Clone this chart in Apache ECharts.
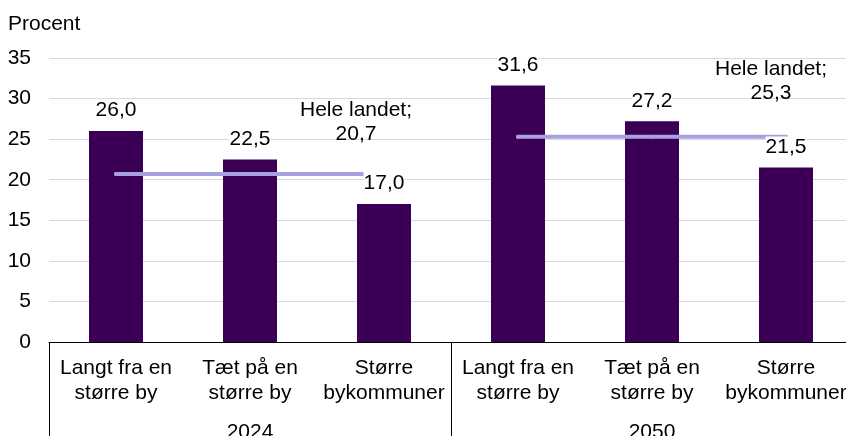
<!DOCTYPE html>
<html>
<head>
<meta charset="utf-8">
<script src="https://cdn.jsdelivr.net/npm/echarts@6/dist/echarts.min.js"></script>
<style>
  html, body { margin: 0; padding: 0; background: #fff; }
  #chart { width: 846px; height: 436px; }
</style>
</head>
<body>
<div id="chart"></div>
<script>
// kategorier og værdier
const categories = [
  'Langt fra en\nstørre by', 'Tæt på en\nstørre by', 'Større\nbykommuner',
  'Langt fra en\nstørre by', 'Tæt på en\nstørre by', 'Større\nbykommuner'
];
const groups = ['2024', '2050'];
const values = [26.0, 22.5, 17.0, 31.6, 27.2, 21.5];
const avg2024 = [20.7, 20.7, 20.7, '-', '-', '-'];
const avg2050 = ['-', '-', '-', 25.3, 25.3, 25.3];
const avgName = 'Hele landet';

const font = 'Liberation Sans, Arial, sans-serif';
const fmt = v => Number(v).toFixed(1).replace('.', ',');

function avgSeries(arr, lastIdx, offset) {
  return {
    type: 'line',
    z: 2,
    data: arr.map((v, i) => ({ value: v, label: { show: i === lastIdx } })),
    symbol: 'circle',
    symbolSize: 4,
    showSymbol: true,
    lineStyle: { color: '#a7a1e0', width: 4, cap: 'round' },
    itemStyle: { color: '#a7a1e0' },
    label: {
      position: 'top',
      distance: 0,
      offset: offset,
      color: '#000',
      fontSize: 21,
      lineHeight: 24,
      fontFamily: font,
      align: 'center',
      formatter: p => avgName + ';\n' + fmt(p.value)
    }
  };
}

const chart = echarts.init(document.getElementById('chart'));
chart.setOption({
  animation: false,
  title: {
    text: 'Procent',
    left: 8,
    top: 14,
    padding: 0,
    textStyle: { fontSize: 21, fontWeight: 'normal', color: '#000', fontFamily: font }
  },
  grid: { left: 49, top: 58, right: -7, bottom: 94, containLabel: false, outerBoundsMode: 'none' },
  xAxis: [
    {
      type: 'category',
      data: categories,
      axisLine: { lineStyle: { color: '#000', width: 1 } },
      axisTick: { show: false },
      axisLabel: {
        interval: 0, margin: 14, color: '#000', fontSize: 21, lineHeight: 25, fontFamily: font,
        hideOverlap: false
      }
    },
    {
      type: 'category',
      data: groups,
      position: 'bottom',
      axisLine: { show: false },
      axisTick: { show: true, length: 94, lineStyle: { color: '#000', width: 1 } },
      axisLabel: { margin: 80, color: '#000', fontSize: 21, fontFamily: font },
      splitLine: { show: false }
    }
  ],
  yAxis: {
    type: 'value',
    min: 0,
    max: 35,
    interval: 5,
    axisLine: { show: false },
    axisTick: { show: false },
    splitLine: { lineStyle: { color: '#d9d9d9', width: 1 } },
    axisLabel: { margin: 18, color: '#000', fontSize: 21, fontFamily: font }
  },
  series: [
    {
      type: 'bar',
      z: 1,
      data: values,
      barWidth: 54,
      itemStyle: { color: '#3b0056' }
    },
    avgSeries(avg2024, 2, [-28, -26]),
    avgSeries(avg2050, 5, [-15, -30]),
    {
      // gennemsigtig kopi af søjlerne, kun for dataetiketterne over linjerne
      type: 'bar',
      z: 3,
      // etiketten "17,0" dækker linjens ende som i originalen
      data: values.map((v, i) => i === 2 ? { value: v, label: { padding: [8, 0, 0, 0] } } : v),
      barWidth: 54,
      barGap: '-100%',
      itemStyle: { color: 'rgba(0,0,0,0)' },
      label: {
        show: true,
        position: 'top',
        distance: 10,
        color: '#000',
        fontSize: 21,
        fontFamily: font,
        backgroundColor: '#fff',
        formatter: p => fmt(p.value)
      }
    }
  ]
});
</script>
</body>
</html>
